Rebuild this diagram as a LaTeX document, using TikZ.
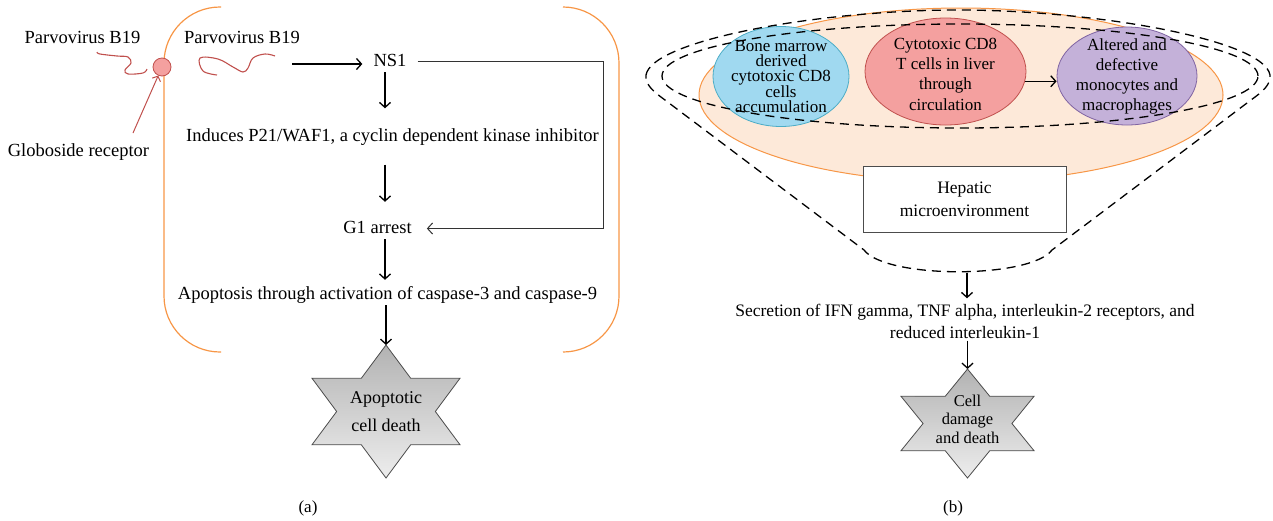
\documentclass[tikz,border=0pt]{standalone}
\usepackage{fontspec}
\setmainfont{Liberation Serif}
\usetikzlibrary{arrows.meta, shapes.geometric}
\definecolor{orangerand}{HTML}{F79646}
\definecolor{orangefuell}{HTML}{FDE9D9}
\definecolor{rotrand}{HTML}{C0504D}
\definecolor{rotfuell}{HTML}{F4A09F}
\definecolor{blaurand}{HTML}{4BACC6}
\definecolor{blaufuell}{HTML}{A0D9F0}
\definecolor{lilarand}{HTML}{8064A2}
\definecolor{lilafuell}{HTML}{C4B1D9}
\begin{document}
\begin{tikzpicture}[x=1pt, y=-1pt,
  every node/.style={font=\fontsize{18.5}{21}\selectfont, inner sep=2pt},
  fluss/.style={text height=13pt, text depth=4pt},
  pfeil/.style={line width=1.3pt, -{Straight Barb[length=5pt, width=11pt]}},
  virus/.style={rotrand, line width=1.1pt},
  klammer/.style={orangerand, line width=1.2pt, rounded corners=56pt},
  zelle/.style={ellipse, line width=0.8pt, inner sep=0pt},
  strich/.style={line width=1.3pt, dash pattern=on 9pt off 6pt},
  stern/.style={draw=black!70, line width=0.8pt, top color=black!30, middle color=black!28, bottom color=black!7}]
  \useasboundingbox (0,0) rectangle (1273,520);

  % (a) Parvovirus B19 -- Zellzyklus
  \draw[klammer] (221,7) -- (164,7) -- (164,352) -- (221,352);
  \draw[klammer] (563,7) -- (619,7) -- (619,352) -- (563,352);
  \node[fluss] (virus1) at (82.5,38.5) {Parvovirus B19};
  \node[fluss] (virus2) at (242,38.5) {Parvovirus B19};
  \node[fluss] (rezeptor) at (78.5,151.5) {Globoside receptor};
  \draw[virus] plot[smooth, tension=0.6] coordinates {(97,52) (100,54) (117,56) (128,57) (131,63) (125,70) (128,74) (143,73) (147,69)};
  \draw[virus] plot[smooth, tension=0.6] coordinates {(217,75) (203,71) (200,58) (218,59) (233,67) (243,72) (248,68) (253,58) (265,54) (275,56)};
  \node[circle, minimum size=18pt, inner sep=0pt, draw=rotrand, fill=rotfuell, line width=0.8pt] (kreis) at (162,67) {};
  \coordinate (rstart) at (133,133);
  \draw[rotrand, line width=1pt, -{Straight Barb[length=4pt, width=9pt]}] (rstart) -- (kreis);

  \node[fluss] (ns1) at (390,61.5) {NS1};
  \node[fluss] (p21) at (392.5,137) {Induces P21/WAF1, a cyclin dependent kinase inhibitor};
  \node[fluss] (g1) at (377.5,228.5) {G1 arrest};
  \node[fluss] (apo) at (387.5,294.5) {Apoptosis through activation of caspase-3 and caspase-9};
  \coordinate (achse) at (385,0);
  \coordinate (v2ende) at (292,64);
  \coordinate (ecke) at (603,0);
  \coordinate (stern1) at (386,345);
  \draw[pfeil, shorten >=9pt] (v2ende) -- (v2ende -| ns1.west);
  \draw[pfeil, shorten >=18pt] (ns1.south -| achse) -- (p21.north -| achse);
  \draw[pfeil, shorten <=17pt, shorten >=16pt] (p21.south -| achse) -- (g1.north -| achse);
  \draw[pfeil, shorten >=4pt] (g1.south -| achse) -- (apo.north -| achse);
  \draw[pfeil] (apo.south -| stern1) -- (stern1);
  \draw[black!80, line width=1pt, shorten <=9pt, shorten >=13pt, -{Straight Barb[length=5pt, width=11pt]}]
    (ns1.east) -- (ns1.east -| ecke) |- (g1.east);

  % Stern (a)
  \begin{scope}[shift={(386,411.5)}, xscale=1.285]
    \shade[stern] (90:66.5) -- (120:38.4) -- (150:66.5) -- (180:38.4) -- (210:66.5) -- (240:38.4)
      -- (270:66.5) -- (300:38.4) -- (330:66.5) -- (0:38.4) -- (30:66.5) -- (60:38.4) -- cycle;
  \end{scope}
  \node[align=center, font=\fontsize{18}{28}\selectfont] (tod1) at (386,412) {Apoptotic\\cell death};

  % (b) Leber-Mikroumgebung
  \draw[orangerand, fill=orangefuell, line width=1pt] (961,95) ellipse [x radius=262pt, y radius=87pt];
  \node[zelle, draw=blaurand, fill=blaufuell, minimum width=136pt, minimum height=100pt] (blau) at (781,76.5) {};
  \node[zelle, draw=rotrand, fill=rotfuell, minimum width=161pt, minimum height=107pt] (rot) at (945.5,71.5) {};
  \node[zelle, draw=lilarand, fill=lilafuell, minimum width=140pt, minimum height=98pt] (lila) at (1127,76) {};
  \draw[pfeil] (rot.-7) -- (rot.-7 -| lila.west);

  % gestrichelte Umrandungen
  \draw[strich] (960,76) ellipse [x radius=298pt, y radius=52pt];
  \draw[strich] (646,75) .. controls (652,40) and (820,10) .. (958,10)
    .. controls (1096,10) and (1264,40) .. (1270,75)
    .. controls (1271,85) and (1262,92) .. (1251,100) -- (1052,250)
    .. controls (1030,279) and (886,279) .. (864,250) -- (665,100)
    .. controls (654,92) and (645,85) .. (646,75) -- cycle;

  \node[align=center, font=\fontsize{17}{14.7}\selectfont] (blautext) at (blau) {Bone marrow\\derived\\cytotoxic CD8\\cells\\accumulation};
  \node[align=center, font=\fontsize{17}{20.3}\selectfont] (rottext) at (945.5,74) {Cytotoxic CD8\\T cells in liver\\through\\circulation};
  \node[align=center, font=\fontsize{17}{20}\selectfont] (lilatext) at (lila) {Altered and\\defective\\monocytes and\\macrophages};

  \node[draw=black!70, fill=white, line width=1pt, minimum width=203pt, minimum height=66pt, align=center,
    font=\fontsize{17.5}{23}\selectfont] (hepa) at (964.5,199) {Hepatic\\microenvironment};

  \coordinate (trichter) at (967,273);
  \coordinate (stern2) at (967.5,369);
  \node[align=center, font=\fontsize{17.5}{21.5}\selectfont] (sekret) at (965,321.5)
    {Secretion of IFN gamma, TNF alpha, interleukin-2 receptors, and\\reduced interleukin-1};
  \draw[pfeil, shorten >=4pt] (trichter) -- (trichter |- sekret.north);
  \draw[pfeil] (sekret.south -| stern2) -- (stern2);

  % Stern (b)
  \begin{scope}[shift={(967.5,423.5)}, xscale=1.41]
    \shade[stern] (90:54.5) -- (120:31.5) -- (150:54.5) -- (180:31.5) -- (210:54.5) -- (240:31.5)
      -- (270:54.5) -- (300:31.5) -- (330:54.5) -- (0:31.5) -- (30:54.5) -- (60:31.5) -- cycle;
  \end{scope}
  \node[align=center, font=\fontsize{16.5}{18.5}\selectfont] (tod2) at (967.5,419) {Cell\\damage\\and death};

  \node[font=\fontsize{17}{20}\selectfont] (labela) at (308,508) {(a)};
  \node[font=\fontsize{17}{20}\selectfont] (labelb) at (953,508) {(b)};
\end{tikzpicture}
\end{document}
